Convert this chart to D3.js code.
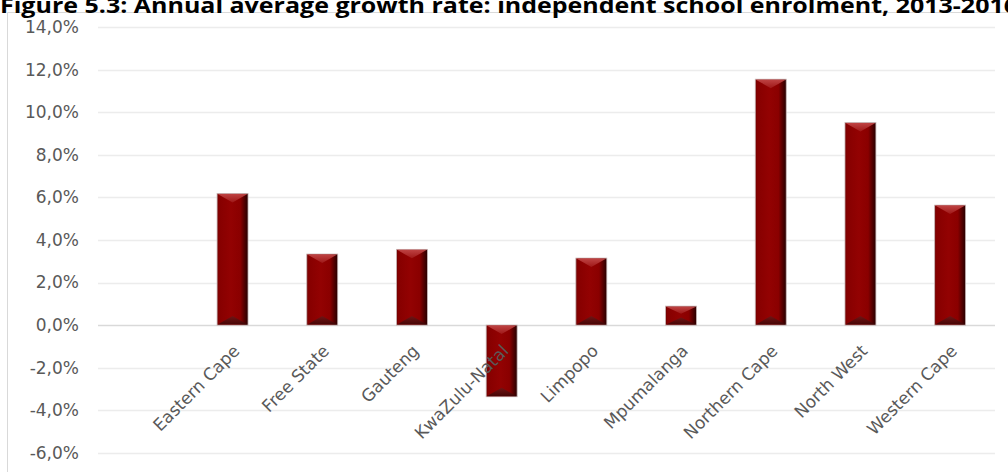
<!DOCTYPE html>
<html><head><meta charset="utf-8">
<script src="https://cdn.jsdelivr.net/npm/d3@7"></script>
<style>html,body{margin:0;padding:0;background:#fff;overflow:hidden}</style>
</head><body>
<svg id="c" width="1008" height="472"></svg>
<script>
const title = "Figure 5.3: Annual average growth rate: independent school enrolment, 2013-2016";
const categories = ["Eastern Cape","Free State","Gauteng","KwaZulu-Natal","Limpopo","Mpumalanga","Northern Cape","North West","Western Cape"];
const values = [6.19, 3.34, 3.56, -3.37, 3.15, 0.89, 11.56, 9.52, 5.64];
const yTicks = [-6,-4,-2,0,2,4,6,8,10,12,14];

const svg = d3.select("#c");
const W = 1008, H = 472;
const x = d3.scaleBand().domain([""].concat(categories)).range([98, 995]).paddingInner(0.655).paddingOuter(0.3275);
const y = d3.scaleLinear().domain([-6, 14]).range([452.7, 27.3]);

// chart border
svg.append("path").attr("d", `M7.5,${H} V12.5 H${W}`).attr("fill","none").attr("stroke","#d9d9d9").attr("stroke-width",1);

// title
svg.append("text").text(title).attr("x",0).attr("y",13)
  .attr("font-family","'Open Sans', sans-serif").attr("font-weight","bold").attr("font-size",22)
  .attr("textLength",1018).attr("lengthAdjust","spacingAndGlyphs").attr("fill","#000");

// gridlines
svg.append("g").selectAll("line").data(yTicks).join("line")
  .attr("x1",98).attr("x2",995)
  .attr("y1",d=>Math.round(y(d))+0.5).attr("y2",d=>Math.round(y(d))+0.5)
  .attr("stroke",d=>d===0?"#d9d9d9":"#ececec").attr("stroke-width",1.5);

// y axis labels
const fmt = d => d.toFixed(1).replace(".", ",") + "%";
const yAxis = d3.axisLeft(y).tickValues(yTicks).tickFormat(fmt).tickSize(0).tickPadding(0);
const gy = svg.append("g").attr("transform","translate(79,0)").call(yAxis);
gy.select(".domain").remove();
gy.selectAll("text").attr("font-family","'DejaVu Sans', sans-serif").attr("font-size",17).attr("fill","#595959");

// defs
const defs = svg.append("defs");
const g1 = defs.append("linearGradient").attr("id","body").attr("x1","0").attr("x2","1").attr("y1","0").attr("y2","0");
[["0%","#6a0000"],["6%","#860000"],["45%","#930202"],["75%","#8a0000"],["86%","#5c0000"],["100%","#260000"]]
  .forEach(s=>g1.append("stop").attr("offset",s[0]).attr("stop-color",s[1]));
const g2 = defs.append("linearGradient").attr("id","topb").attr("x1","0").attr("x2","0").attr("y1","0").attr("y2","1");
[["0%","#c44a4a"],["100%","#a01a1a"]].forEach(s=>g2.append("stop").attr("offset",s[0]).attr("stop-color",s[1]));
const g3 = defs.append("linearGradient").attr("id","botb").attr("x1","0").attr("x2","0").attr("y1","0").attr("y2","1");
[["0%","#6a1818"],["100%","#3a0606"]].forEach(s=>g3.append("stop").attr("offset",s[0]).attr("stop-color",s[1]));

const data = categories.map((c,i)=>({c, v: values[i]}));
const bw = x.bandwidth();
const bars = svg.append("g").selectAll("g").data(data).join("g");
bars.each(function(d){
  const g = d3.select(this);
  const x0 = x(d.c);
  const top = Math.min(y(d.v), y(0));
  const h = Math.abs(y(d.v) - y(0));
  const b = Math.min(9, h/2.5);
  g.append("rect").attr("x",x0).attr("y",top).attr("width",bw).attr("height",h)
    .attr("fill","url(#body)").attr("stroke","#c9b6b6").attr("stroke-width",0.8);
  g.append("path").attr("d",`M${x0+0.5},${top+0.5} L${x0+bw-0.5},${top+0.5} L${x0+bw/2},${top+b} Z`).attr("fill","url(#topb)").attr("opacity",0.9);
  g.append("path").attr("d",`M${x0+0.5},${top+h-0.5} L${x0+bw-0.5},${top+h-0.5} L${x0+bw/2},${top+h-b} Z`).attr("fill","url(#botb)").attr("opacity",0.85);
});

// x labels
svg.append("g").selectAll("text").data(categories).join("text")
  .attr("transform",d=>`translate(${x(d)+bw/2+8},${352}) rotate(-45)`)
  .attr("text-anchor","end")
  .attr("font-family","'DejaVu Sans', sans-serif").attr("font-size",17).attr("fill","#595959")
  .text(d=>d);
</script>
</body></html>
